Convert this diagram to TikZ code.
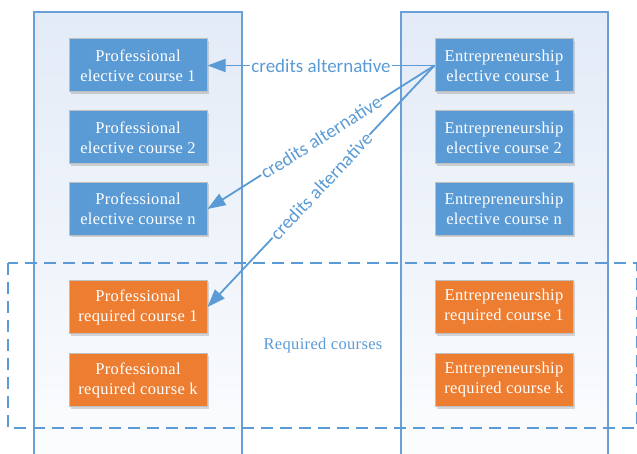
\documentclass[tikz,border=0pt]{standalone}
\usepackage{fontspec}
\setmainfont{Liberation Serif}[LetterSpace=2]
\newfontfamily\lblfont{Carlito}
\usetikzlibrary{arrows.meta,shadows}
\definecolor{cblue}{HTML}{5B9BD5}
\definecolor{corange}{HTML}{ED7D31}
\definecolor{colline}{HTML}{6A9FD8}
\definecolor{coltop}{HTML}{E3EBF7}
\definecolor{colbot}{HTML}{FCFDFE}
\begin{document}
\begin{tikzpicture}[x=1pt,y=-1pt,
  course/.style={rectangle, minimum width=138pt, minimum height=53pt, draw=black!25, line width=1pt,
    text=white, align=center, font=\fontsize{16.5}{20}\selectfont, inner sep=0pt,
    drop shadow={shadow xshift=1.5pt, shadow yshift=-2pt, opacity=0.25, fill=black!60}},
  elective/.style={course, fill=cblue},
  required/.style={course, fill=corange},
  column/.style={draw=colline, line width=1.3pt, top color=coltop, bottom color=colbot},
  credit/.style={draw=cblue, line width=1.8pt},
  creditarrow/.style={credit, -{Triangle[length=18pt,width=13pt]}},
  lbl/.style={midway, sloped, fill=white, inner sep=1pt, text=cblue, font=\lblfont\fontsize{19}{20}\selectfont}
]
\useasboundingbox (0,0) rectangle (637,454);
\path[column] (34,12) rectangle (242,470);
\path[column] (401,12) rectangle (608,470);
\draw[cblue, line width=2pt, dash pattern=on 12pt off 7pt] (8,263) rectangle (636.5,428);

\node[elective] (p1) at (138,65.5) {Professional\\elective course 1};
\node[elective] (p2) at (138,137.5) {Professional\\elective course 2};
\node[elective] (pn) at (138,209) {Professional\\elective course n};
\node[required] (r1) at (138,307) {Professional\\required course 1};
\node[required] (rk) at (138,380) {Professional\\required course k};

\node[elective] (e1) at (504,65.5) {Entrepreneurship\\elective course 1};
\node[elective] (e2) at (504,137.5) {Entrepreneurship\\elective course 2};
\node[elective] (en) at (504,209) {Entrepreneurship\\elective course n};
\node[required] (er1) at (504,307) {Entrepreneurship\\required course 1};
\node[required] (erk) at (504,380) {Entrepreneurship\\required course k};

\node[text=cblue, font=\fontsize{16.5}{18}\selectfont] (req) at (323,346) {Required courses};

\draw[creditarrow] (e1.west) -- node[lbl] {credits alternative} (p1.east);
\draw[creditarrow] (e1.west) -- node[lbl] {credits alternative} (pn.east);
\draw[creditarrow] (e1.west) -- node[lbl] {credits alternative} (r1.east);
\end{tikzpicture}
\end{document}
